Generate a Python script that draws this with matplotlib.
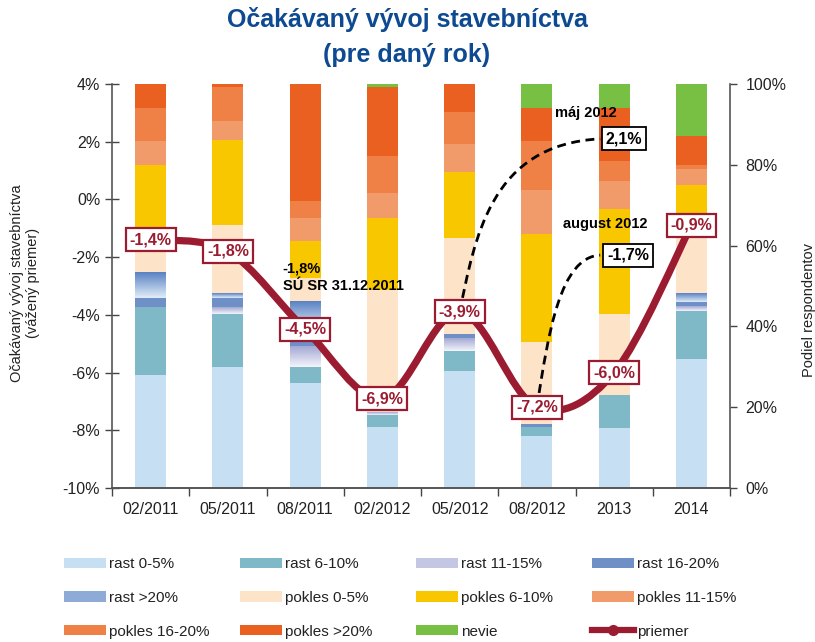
import numpy as np
import matplotlib
matplotlib.use("Agg")
import matplotlib.pyplot as plt
from matplotlib.path import Path
from matplotlib.patches import PathPatch, Patch
from matplotlib.lines import Line2D
from matplotlib.colors import LinearSegmentedColormap

plt.rcParams['font.family'] = ['Liberation Sans', 'DejaVu Sans']

# ---------------- data ----------------
categories = ["02/2011", "05/2011", "08/2011", "02/2012", "05/2012", "08/2012", "2013", "2014"]

rast_0_5     = [28.0, 30.0, 26.0, 15.1, 29.0, 12.9, 14.9, 31.9]
rast_6_10    = [16.8, 13.1, 4.0, 3.0, 5.0, 2.2, 8.2, 11.9]
rast_11_15   = [0.0, 1.7, 5.0, 0.7, 3.2, 0.0, 0.0, 1.2]
rast_16_20   = [2.2, 2.3, 4.0, 0.0, 0.8, 0.7, 0.0, 1.0]
rast_gt20    = [6.2, 1.0, 7.1, 0.0, 0.0, 0.0, 0.0, 2.0]
pokles_0_5   = [10.1, 17.1, 5.9, 30.2, 24.0, 20.3, 20.0, 20.0]
pokles_6_10  = [16.6, 21.0, 9.2, 17.8, 16.1, 26.7, 26.0, 6.9]
pokles_11_15 = [5.9, 4.7, 5.7, 6.2, 7.1, 10.9, 6.9, 4.0]
pokles_16_20 = [8.2, 8.4, 4.2, 9.2, 7.9, 12.1, 5.0, 1.0]
pokles_gt20  = [5.9, 1.0, 29.2, 17.1, 7.2, 8.2, 13.1, 7.2]
nevie        = [0.0, 0.0, 0.0, 1.0, 0.0, 6.2, 6.2, 13.1]

priemer = [-1.4, -1.8, -4.5, -6.9, -3.9, -7.2, -6.0, -0.9]

series_names = ["rast 0-5%", "rast 6-10%", "rast 11-15%", "rast 16-20%", "rast >20%",
                "pokles 0-5%", "pokles 6-10%", "pokles 11-15%", "pokles 16-20%",
                "pokles >20%", "nevie"]
series_values = [rast_0_5, rast_6_10, rast_11_15, rast_16_20, rast_gt20,
                 pokles_0_5, pokles_6_10, pokles_11_15, pokles_16_20,
                 pokles_gt20, nevie]

# annotation values (May 2012 / August 2012 forecasts for 2013)
maj_2012_value = 2.1
aug_2012_value = -1.7
su_sr_value = -1.8

# ---------------- styles ----------------
colors = ["#c6dff3", "#7fb8c6", "#a8acd6", "#6f8fc7", "#5f86c5",
          "#fde3c8", "#f8c700", "#f19b6b", "#ef8046", "#e96021", "#77c043"]
gradients = {2: ("#f4f4fb", "#a3a8d4"),   # rast 11-15 (bottom, top)
             4: ("#e1edf8", "#5a82c3")}   # rast >20
line_color = "#9b1c30"
text_color = "#222222"
title_color = "#0d4a92"

fig = plt.figure(figsize=(8.15, 6.42), dpi=100)
ax = fig.add_axes([112/815, 1-488/642, 618/815, 404/642])
ax2 = ax.twinx()

x = np.arange(len(categories))
width = 0.40

# stacked bars on the share axis
bottom = np.zeros(len(categories))
for i, (name, vals) in enumerate(zip(series_names, series_values)):
    vals = np.array(vals, dtype=float)
    ax2.bar(x, vals, width, bottom=bottom, color=colors[i], edgecolor='none',
            linewidth=0, zorder=2)
    if i in gradients:
        cmap = LinearSegmentedColormap.from_list("g%d" % i, list(gradients[i]))
        grad = np.linspace(0, 1, 64).reshape(-1, 1)
        for xi, b, h in zip(x, bottom, vals):
            if h > 0:
                ax2.imshow(grad, cmap=cmap, origin='lower', aspect='auto',
                           extent=[xi - width/2, xi + width/2, b, b + h],
                           zorder=3, interpolation='bilinear')
    bottom += vals

ax2.set_xlim(-0.5, len(categories) - 0.5)
ax2.set_ylim(0, 100)
ax2.set_aspect('auto')
ax2.set_yticks(np.arange(0, 101, 20))
ax2.set_yticklabels(["%d%%" % v for v in range(0, 101, 20)])

# average line on the primary axis (smooth, Excel-like Bezier through the points)
ax.set_zorder(ax2.get_zorder() + 1)
ax.patch.set_visible(False)
ax.set_xlim(-0.5, len(categories) - 0.5)
ax.set_ylim(-10, 4)

pts = np.column_stack([x, priemer]).astype(float)
n = len(pts)
verts = [tuple(pts[0])]
codes = [Path.MOVETO]
for i in range(n - 1):
    p0 = pts[i - 1] if i > 0 else pts[i]
    p1 = pts[i]
    p2 = pts[i + 1]
    p3 = pts[i + 2] if i + 2 < n else pts[i + 1]
    c1 = p1 + (p2 - p0) / 6.0
    c2 = p2 - (p3 - p1) / 6.0
    verts += [tuple(c1), tuple(c2), tuple(p2)]
    codes += [Path.CURVE4] * 3
ax.add_patch(PathPatch(Path(verts, codes), fill=False, edgecolor=line_color,
                       lw=5.2, capstyle='round', joinstyle='round', zorder=4))

# dashed forecast curves
def dashed_curve(p0, c1, c2, p3):
    path = Path([p0, c1, c2, p3], [Path.MOVETO, Path.CURVE4, Path.CURVE4, Path.CURVE4])
    ax.add_patch(PathPatch(path, fill=False, edgecolor='black', lw=2.0,
                           linestyle=(0, (3.2, 2.0)), zorder=3))

dashed_curve((x[4], priemer[4]), (4.2, -1.3), (4.4, 1.9), (5.82, maj_2012_value))
dashed_curve((x[5], priemer[5]), (5.15, -4.6), (5.3, -2.0), (5.82, -1.93))

# value labels on the line
def fmt(v):
    return ("%.1f%%" % v).replace(".", ",")

for xi, v in zip(x, priemer):
    ax.text(xi, v, fmt(v), ha='center', va='center', fontsize=11.5, fontweight='bold',
            color=line_color, zorder=6,
            bbox=dict(boxstyle='square,pad=0.25', fc='white', ec=line_color, lw=1.6))

ax.text(6.13, maj_2012_value, fmt(maj_2012_value), ha='center', va='center',
        fontsize=11.5, fontweight='bold', color='black', zorder=6,
        bbox=dict(boxstyle='square,pad=0.25', fc='white', ec='black', lw=1.3))
ax.text(6.18, -1.93, fmt(aug_2012_value), ha='center', va='center',
        fontsize=11.5, fontweight='bold', color='black', zorder=6,
        bbox=dict(boxstyle='square,pad=0.25', fc='white', ec='black', lw=1.3))
ax.text(5.64, 3.0, "máj 2012", ha='center', va='center', fontsize=10.5,
        fontweight='bold', color='black', zorder=6)
ax.text(5.89, -0.84, "august 2012", ha='center', va='center', fontsize=10.5,
        fontweight='bold', color='black', zorder=6)
ax.text(1.71, -2.38, fmt(su_sr_value), ha='left', va='center', fontsize=10.5,
        fontweight='bold', color='black', zorder=6)
ax.text(1.71, -3.0, "SÚ SR 31.12.2011", ha='left', va='center', fontsize=10.5,
        fontweight='bold', color='black', zorder=6)

# axes formatting
ax.set_yticks(np.arange(-10, 5, 2))
ax.set_yticklabels(["%d%%" % v for v in range(-10, 5, 2)])
ax.set_xticks(x)
ax.set_xticklabels(categories)
ax.set_xticks(np.arange(-0.5, len(categories), 1), minor=True)
ax.tick_params(axis='x', which='major', length=0, pad=10, labelsize=11.5, colors=text_color)
ax.tick_params(axis='x', which='minor', length=6, width=1, color='#444444', direction='out')
ax.tick_params(axis='y', which='major', length=10, width=1, direction='inout',
               labelsize=11.5, colors=text_color, color='#444444')
ax2.tick_params(axis='y', which='major', length=5, width=1, direction='out',
                labelsize=11.5, colors=text_color, color='#444444', pad=6)
ax2.tick_params(axis='x', length=0)

for a in (ax, ax2):
    a.spines['top'].set_visible(False)
    for s in ('left', 'right', 'bottom'):
        a.spines[s].set_color('#555555')
        a.spines[s].set_linewidth(1.2)
ax.spines['right'].set_visible(False)
ax2.spines['left'].set_visible(False)

ax.set_ylabel("Očakávaný vývoj stavebníctva\n(vážený priemer)", fontsize=10.5,
              color=text_color, linespacing=1.15)
ax.yaxis.set_label_coords(-0.141, 0.507)
ax.yaxis.label.set_va('center')
ax2.set_ylabel("Podiel respondentov", fontsize=10.5, color=text_color)
ax2.yaxis.set_label_coords(1.128, 0.44)
ax2.yaxis.label.set_va('center')

# title
fig.text(0.4994, 1 - 20/642, "Očakávaný vývoj stavebníctva", ha='center', va='center',
         fontsize=18, fontweight='bold', color=title_color)
fig.text(0.4994, 1 - 55/642, "(pre daný rok)", ha='center', va='center',
         fontsize=18, fontweight='bold', color=title_color)

# legend: 4 columns with fixed positions, 3 entries each (row-wise reading order)
handles = [Patch(facecolor=c, edgecolor='none') for c in colors]
handles[2] = Patch(facecolor="#c4c7e4", edgecolor='none')
handles[4] = Patch(facecolor="#8eabd8", edgecolor='none')
handles.append(Line2D([], [], color=line_color, lw=4.5, marker='o', ms=7))
labels = series_names + ["priemer"]
col_x = [64, 240, 416, 592]
for c in range(4):
    idx = [c, c + 4, c + 8]
    leg = fig.legend([handles[i] for i in idx], [labels[i] for i in idx], ncol=1,
                     loc='upper left', bbox_to_anchor=(col_x[c]/815, 1 - 557/642),
                     frameon=False, fontsize=11, handlelength=2.75, handleheight=0.65,
                     handletextpad=0.2, labelspacing=1.3, borderpad=0,
                     borderaxespad=0, labelcolor=text_color)

fig.savefig("out.png", dpi=100)
